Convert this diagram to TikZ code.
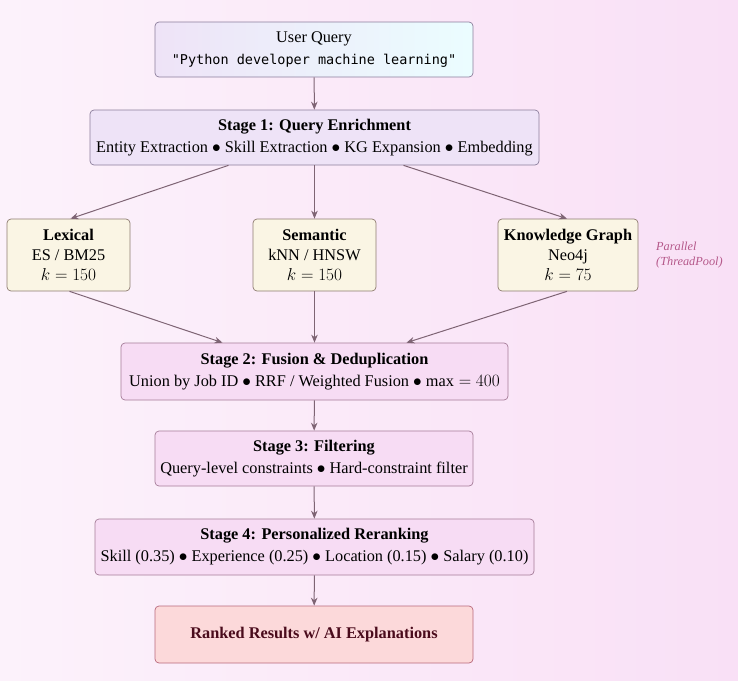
\documentclass[tikz,border=0pt]{standalone}
\usepackage{fontspec}
\setmainfont{Liberation Serif}
\setmonofont{DejaVu Sans Mono}
\usetikzlibrary{arrows.meta,calc}
\definecolor{arr}{HTML}{7E6474}
\definecolor{bordA}{HTML}{8C7E9C}
\definecolor{fillS1}{HTML}{EEE3F7}
\definecolor{fillRet}{HTML}{FAF5E4}
\definecolor{bordRet}{HTML}{8E7C70}
\definecolor{fillSt}{HTML}{F7DCF4}
\definecolor{bordSt}{HTML}{A57C98}
\definecolor{fillRes}{HTML}{FCD9DA}
\definecolor{bordRes}{HTML}{B8687C}
\definecolor{txtRes}{HTML}{4A0B1C}
\definecolor{parc}{HTML}{B5588A}
\definecolor{bgL}{HTML}{FCF2FB}
\definecolor{bgR}{HTML}{F9E0F6}
\begin{document}
\begin{tikzpicture}[x=1pt,y=-1pt,
  every node/.style={font=\fontsize{16.3}{20}\selectfont, align=center, inner sep=0pt},
  box/.style={draw, rounded corners=4pt, line width=0.7pt},
  query/.style={box, draw=bordA, left color=fillS1, right color=blue!8!cyan!8!white},
  s1box/.style={box, draw=bordA, fill=fillS1},
  retbox/.style={box, draw=bordRet, fill=fillRet},
  stbox/.style={box, draw=bordSt, fill=fillSt},
  resbox/.style={box, draw=bordRes, fill=fillRes, text=txtRes},
  conn/.style={draw=arr, line width=1pt, -{Stealth[length=8pt,width=6.5pt]}}
]
\useasboundingbox (0,0) rectangle (738,680);
\shade[left color=bgL, right color=bgR] (0,0) rectangle (738,680);

\node[query, minimum width=318pt, minimum height=55pt] (uq) at (314,49.5)
  {User Query\\[2pt] {\ttfamily\fontsize{13.5}{16}\selectfont "Python developer machine learning"}};
\node[s1box, minimum width=449pt, minimum height=55pt] (s1) at (314.5,137.5)
  {\textbf{Stage 1: Query Enrichment}\\[2pt] Entity Extraction $\bullet$ Skill Extraction $\bullet$ KG Expansion $\bullet$ Embedding};

\node[retbox, minimum width=123pt, minimum height=72pt] (lex) at (68.5,255)
  {\textbf{Lexical}\\ ES / BM25\\ $k=150$};
\node[retbox, minimum width=123pt, minimum height=72pt] (sem) at (314.5,255)
  {\textbf{Semantic}\\ kNN / HNSW\\ $k=150$};
\node[retbox, minimum width=140pt, minimum height=72pt] (kg) at (568,255)
  {\textbf{Knowledge Graph}\\ Neo4j\\ $k=75$};
\node[text=parc, font=\fontsize{12.3}{15}\selectfont\itshape, align=left, anchor=west] (par) at (656,255)
  {Parallel\\(ThreadPool)};

\node[stbox, minimum width=387pt, minimum height=57pt] (s2) at (314.5,371.5)
  {\textbf{Stage 2: Fusion \& Deduplication}\\[2pt] Union by Job ID $\bullet$ RRF / Weighted Fusion $\bullet$ $\mathrm{max}=400$};
\node[stbox, minimum width=318pt, minimum height=55pt] (s3) at (314,458.5)
  {\textbf{Stage 3: Filtering}\\[2pt] Query-level constraints $\bullet$ Hard-constraint filter};
\node[stbox, minimum width=439pt, minimum height=56pt] (s4) at (314.5,547)
  {\textbf{Stage 4: Personalized Reranking}\\[2pt] Skill (0.35) $\bullet$ Experience (0.25) $\bullet$ Location (0.15) $\bullet$ Salary (0.10)};
\node[resbox, minimum width=318pt, minimum height=57pt] (res) at (314,634.5)
  {\textbf{Ranked Results w/ AI Explanations}};

\draw[conn] (uq) -- (s1);
\draw[conn] ([xshift=-86pt]s1.south) -- ([xshift=2pt]lex.north);
\draw[conn] (s1.south) -- (sem.north);
\draw[conn] ([xshift=89pt]s1.south) -- ([xshift=-1pt]kg.north);
\draw[conn] ([xshift=1pt]lex.south) -- ([xshift=-92pt]s2.north);
\draw[conn] (sem) -- (s2);
\draw[conn] ([xshift=-1pt]kg.south) -- ([xshift=92pt]s2.north);
\draw[conn] (s2) -- (s3);
\draw[conn] (s3) -- (s4);
\draw[conn] (s4) -- (res);
\end{tikzpicture}
\end{document}
